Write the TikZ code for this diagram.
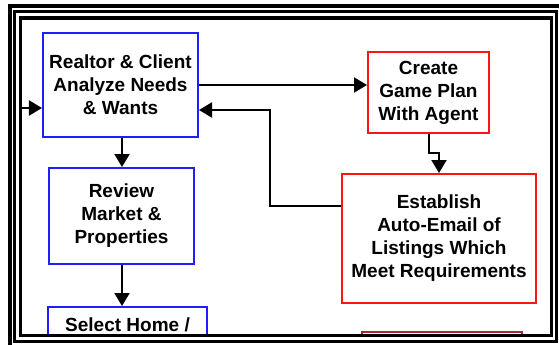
\documentclass[tikz,border=0pt]{standalone}
\usepackage{fontspec}
\setmainfont{Liberation Sans}
\usetikzlibrary{arrows.meta}
\definecolor{boxblue}{RGB}{30,30,255}
\definecolor{boxred}{RGB}{255,20,20}
\definecolor{deepred}{RGB}{170,40,50}

\begin{document}
\begin{tikzpicture}[x=1bp,y=-1bp,
  every node/.style={font=\fontsize{19bp}{23bp}\selectfont\bfseries,align=center},
  bluebox/.style={draw=boxblue,line width=2bp,inner sep=0pt},
  redbox/.style={draw=boxred,line width=2bp,inner sep=0pt},
  flow/.style={line width=2bp,-{Triangle[length=13bp,width=15bp]}}]
  \useasboundingbox (0,0) rectangle (559,344);
  % client side (blue)
  \node[bluebox,minimum width=155bp,minimum height=104bp] (analyze) at (120.5,85) {Realtor \& Client\\Analyze Needs\\\& Wants};
  \node[bluebox,minimum width=145bp,minimum height=96bp] (review) at (121.5,216) {Review\\Market \&\\Properties};
  % agent side (red)
  \node[redbox,minimum width=121bp,minimum height=81bp] (plan) at (428.5,92.5) {Create\\Game Plan\\With Agent};
  \node[redbox,minimum width=194bp,minimum height=129bp] (email) at (439,238.5) {Establish\\Auto-Email of\\Listings Which\\Meet Requirements};
  % boxes running off the bottom of the frame
  \begin{scope}
    \clip (20.5,18) rectangle (551.5,335.5);
    \node[bluebox,minimum width=159bp,minimum height=36bp] (select) at (127.5,325) {Select Home /};
    \node[redbox,draw=deepred,minimum width=160bp,minimum height=40bp] (nextstep) at (442,352) {};
  \end{scope}
  \coordinate (entry) at (22,108);
  \coordinate (back) at (270,110);
  \coordinate (loop) at (270,206);
  \draw[flow] (entry) -- (entry -| analyze.west);
  \draw[flow] (analyze.east) -- (analyze.east -| plan.west);
  \draw[flow] (plan.south) -- ++(0,19) -| (email.north);
  \draw[flow] (loop -| email.west) -- (loop) -- (back) -- (back -| analyze.east);
  \draw[flow] (122,0 |- analyze.south) -- (122,0 |- review.north);
  \draw[flow] (122,0 |- review.south) -- (122,0 |- select.north);
  % triple frame
  \draw[line width=3.5bp] (10,6) rectangle (575,360);
  \draw[line width=3bp] (14.5,11.5) rectangle (556,341.5);
  \draw[line width=3.5bp] (20.5,18) rectangle (551.5,335.5);
\end{tikzpicture}
\end{document}
